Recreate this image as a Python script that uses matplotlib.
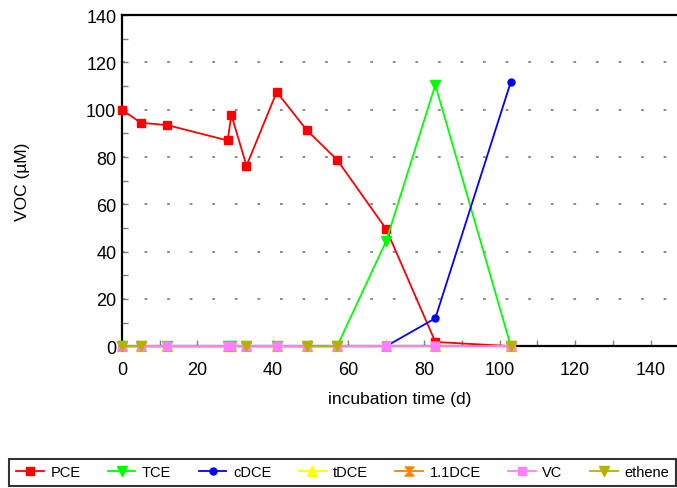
import numpy as np
import matplotlib
matplotlib.use("Agg")
import matplotlib.pyplot as plt

plt.rcParams['font.family'] = ['Liberation Sans', 'DejaVu Sans']

# sampling times (d)
days = [0, 5, 12, 28, 29, 33, 41, 49, 57, 70, 83, 103]

pce = [100, 94.5, 93.5, 87, 97.8, 76.3, 107.5, 91.3, 78.8, 49.5, 1.8, 0]
tce = [0, 0, 0, 0, 0, 0, 0, 0, 0, 44.5, 110.5, 0]
cdce = [0, 0, 0, 0, 0, 0, 0, 0, 0, 0, 11.8, 111.8]
tdce = [0, 0, 0, 0, 0, 0, 0, 0, 0, 0, 0, 0]
dce11 = [0, 0, 0, 0, 0, 0, 0, 0, 0, 0, 0, 0]
vc = [0, 0, 0, 0, 0, 0, 0, 0, 0, 0, 0, 0]
ethene = [0, 0, np.nan, np.nan, np.nan, 0, np.nan, 0, 0, np.nan, np.nan, 0]

names = ['PCE', 'TCE', 'cDCE', 'tDCE', '1.1DCE', 'VC', 'ethene']
colors = ['#ff0000', '#00ff00', '#0000ff', '#ffff00', '#ff8000', '#ff80ff', '#b8b000']
hourglass = [(-1, 1), (1, 1), (-1, -1), (1, -1), (-1, 1)]
markers = ['s', 'v', 'o', '^', hourglass, 's', 'v']
sizes = [5.5, 7, 5, 7, 6.5, 6, 7.5]
series = [pce, tce, cdce, tdce, dce11, vc, ethene]

fig = plt.figure(figsize=(6.77, 4.89), dpi=100)
ax = fig.add_axes([0.180, 0.290, 0.820, 0.677])

handles = []
for i in range(len(series)):
    h, = ax.plot(days, series[i], color=colors[i], marker=markers[i],
                 markersize=sizes[i], linewidth=1.3, label=names[i],
                 clip_on=False, zorder=3 + i)
    handles.append(h)

ax.set_xlim(0, 147)
ax.set_ylim(0, 140)
ax.set_xticks(range(0, 141, 20))
ax.set_yticks(range(0, 141, 20))
ax.set_xticks(range(10, 141, 10), minor=True)
ax.set_yticks(range(10, 141, 10), minor=True)
ax.tick_params(which='both', direction='in', labelsize=13, color='#808080')
ax.tick_params(which='major', length=4, width=1)
ax.tick_params(which='minor', length=4, width=1)
ax.tick_params(axis='x', pad=11)
ax.tick_params(axis='y', pad=4)

for y in range(20, 121, 20):
    ax.axhline(y, color='#808080', linestyle=(0, (1.5, 11)), linewidth=1.3, zorder=1)

for s in ['left', 'bottom', 'top']:
    ax.spines[s].set_linewidth(1.6)
    ax.spines[s].set_color('black')
ax.spines['right'].set_visible(False)

ax.set_xlabel('incubation time (d)', fontsize=12.5, labelpad=9)
ax.set_ylabel('VOC (\u00b5M)', fontsize=12.5, labelpad=40)

leg = fig.legend(handles=handles, loc='lower left', ncol=7, mode='expand',
                 bbox_to_anchor=(0.014, 0.004, 0.984, 0.066), fontsize=10.5,
                 handlelength=1.9, handletextpad=0.45, columnspacing=0.3,
                 fancybox=False, borderpad=0.45, borderaxespad=0)
leg.get_frame().set_edgecolor('black')
leg.get_frame().set_linewidth(1.5)

fig.savefig('out.png', dpi=100)
